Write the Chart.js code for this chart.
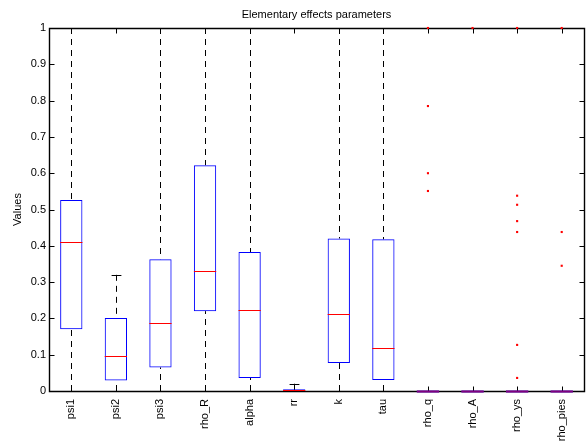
<!DOCTYPE html>
<html>
<head>
<meta charset="utf-8">
<script src="https://cdn.jsdelivr.net/npm/chart.js@4.4.1/dist/chart.umd.min.js"></script>
<style>
  body { margin: 0; background: #fff; }
  #wrap { width: 588px; height: 444px; }
</style>
</head>
<body>
<div id="wrap"><canvas id="myChart" width="588" height="444"></canvas></div>
<script>
// parameters on the x axis
var categories = ['psi1', 'psi2', 'psi3', 'rho_R', 'alpha', 'rr', 'k', 'tau', 'rho_q', 'rho_A', 'rho_ys', 'rho_pies'];

// box statistics
var whiskerLow  = [0, 0, 0, 0, 0, 0, 0, 0, 0, 0, 0, 0];
var q1          = [0.170, 0.029, 0.065, 0.220, 0.036, 0.001, 0.077, 0.030, 0, 0, 0, 0];
var median      = [0.411, 0.096, 0.187, 0.330, 0.224, 0.003, 0.213, 0.119, 0, 0, 0, 0];
var q3          = [0.526, 0.201, 0.363, 0.622, 0.383, 0.005, 0.420, 0.418, 0, 0, 0, 0];
var whiskerHigh = [1, 0.320, 1, 1, 1, 0.020, 1, 1, 0, 0, 0, 0];

// outliers (category, value)
var outlierCat = ['rho_q', 'rho_q', 'rho_q', 'rho_q', 'rho_A',
                  'rho_ys', 'rho_ys', 'rho_ys', 'rho_ys', 'rho_ys', 'rho_ys', 'rho_ys',
                  'rho_pies', 'rho_pies', 'rho_pies'];
var outlierVal = [1, 0.785, 0.600, 0.551, 1,
                  1, 0.538, 0.513, 0.468, 0.438, 0.127, 0.036,
                  1, 0.438, 0.345];

var yTicks = [0, 0.1, 0.2, 0.3, 0.4, 0.5, 0.6, 0.7, 0.8, 0.9, 1];

var FONT = 'Liberation Sans, Arial, Helvetica, sans-serif';

// frame, inward ticks, whiskers, caps, medians
var boxExtras = {
    id: 'boxExtras',
    beforeDatasetsDraw: function (chart) {
        var ctx = chart.ctx, a = chart.chartArea, x = chart.scales.x, y = chart.scales.y;
        var w = x.getPixelForValue(1) - x.getPixelForValue(0);
        ctx.save();
        ctx.strokeStyle = '#000';

        // axes box with ticks pointing inward
        var L = Math.round(a.left) + 0.5, R = Math.round(a.right) + 0.5;
        var T = Math.round(a.top) + 0.5, B = Math.round(a.bottom) + 0.5;
        ctx.lineWidth = 1.4;
        ctx.beginPath();
        ctx.rect(L, T, R - L, B - T);
        ctx.stroke();
        ctx.lineWidth = 1;
        ctx.beginPath();
        categories.forEach(function (c, i) {
            var px = Math.round(x.getPixelForValue(i)) + 0.5;
            ctx.moveTo(px, B); ctx.lineTo(px, B - 5);
            ctx.moveTo(px, T); ctx.lineTo(px, T + 5);
        });
        yTicks.forEach(function (v) {
            var py = Math.round(y.getPixelForValue(v)) + 0.5;
            ctx.moveTo(L, py); ctx.lineTo(L + 5, py);
            ctx.moveTo(R, py); ctx.lineTo(R - 5, py);
        });
        ctx.stroke();

        // whiskers
        categories.forEach(function (c, i) {
            var cx = Math.round(x.getPixelForValue(i)) + 0.5;
            ctx.setLineDash([6, 5]);
            ctx.beginPath();
            ctx.moveTo(cx, y.getPixelForValue(whiskerHigh[i]));
            ctx.lineTo(cx, y.getPixelForValue(q3[i]));
            ctx.moveTo(cx, y.getPixelForValue(whiskerLow[i]));
            ctx.lineTo(cx, y.getPixelForValue(q1[i]));
            ctx.stroke();
            ctx.setLineDash([]);
            var cw = w * 0.11;
            ctx.beginPath();
            [whiskerHigh[i], whiskerLow[i]].forEach(function (v) {
                var py = Math.round(y.getPixelForValue(v)) + 0.5;
                ctx.moveTo(cx - cw, py);
                ctx.lineTo(cx + cw, py);
            });
            ctx.stroke();
        });
        ctx.restore();
    },
    afterDatasetsDraw: function (chart) {
        var ctx = chart.ctx, x = chart.scales.x, y = chart.scales.y;
        var w = x.getPixelForValue(1) - x.getPixelForValue(0);
        ctx.save();
        ctx.lineWidth = 1;
        categories.forEach(function (c, i) {
            var cx = x.getPixelForValue(i);
            var py = Math.round(y.getPixelForValue(median[i])) + 0.5;
            var flat = Math.abs(y.getPixelForValue(q3[i]) - y.getPixelForValue(q1[i])) < 1;
            if (flat) {
                // collapsed box: blue box edge and red median on top of each other
                ctx.strokeStyle = '#0000ff';
                ctx.lineWidth = 2;
                ctx.beginPath();
                ctx.moveTo(cx - w * 0.25, py);
                ctx.lineTo(cx + w * 0.25, py);
                ctx.stroke();
                ctx.strokeStyle = 'rgba(255,0,0,0.5)';
            } else {
                ctx.strokeStyle = '#ff0000';
                ctx.lineWidth = 1;
            }
            ctx.beginPath();
            ctx.moveTo(cx - w * 0.25, py);
            ctx.lineTo(cx + w * 0.25, py);
            ctx.stroke();
        });
        ctx.restore();
    }
};

var ctx = document.getElementById('myChart').getContext('2d');

var myChart = new Chart(ctx, {
    type: 'bar',
    data: {
        labels: categories,
        datasets: [{
            type: 'bar',
            label: 'box',
            data: categories.map(function (c, i) { return [q1[i], q3[i]]; }),
            backgroundColor: 'rgba(0,0,0,0)',
            borderColor: '#0000ff',
            borderWidth: 1,
            borderSkipped: false,
            barPercentage: 0.5,
            categoryPercentage: 1.0
        }, {
            type: 'line',
            label: 'outliers',
            data: outlierCat.map(function (c, i) { return { x: c, y: outlierVal[i] }; }),
            showLine: false,
            pointStyle: 'rect',
            pointRadius: 1.5,
            pointBorderWidth: 0,
            pointBackgroundColor: '#ff0000',
            pointBorderColor: '#ff0000',
            clip: false
        }]
    },
    plugins: [boxExtras],
    options: {
        responsive: false,
        animation: false,
        events: [],
        layout: { padding: { left: 0, right: 3, top: 0, bottom: 0 } },
        plugins: {
            legend: { display: false },
            tooltip: { enabled: false },
            title: {
                display: true,
                fullSize: false,
                text: 'Elementary effects parameters',
                color: '#000',
                font: { family: FONT, size: 11, weight: 'normal' },
                padding: { top: 8.6, bottom: 6.2 }
            }
        },
        scales: {
            x: {
                type: 'category',
                offset: true,
                grid: { display: false, drawTicks: false },
                border: { display: false },
                ticks: {
                    color: '#000',
                    font: { family: FONT, size: 11 },
                    minRotation: 90,
                    maxRotation: 90,
                    autoSkip: false,
                    padding: 8
                },
                afterFit: function (scale) { scale.height = 53; }
            },
            y: {
                min: 0,
                max: 1,
                grid: { display: false, drawTicks: false },
                border: { display: false },
                ticks: {
                    color: '#000',
                    font: { family: FONT, size: 11 },
                    stepSize: 0.1,
                    padding: 3,
                    callback: function (v) { return String(Number(v.toFixed(1))); }
                },
                title: {
                    display: true,
                    text: 'Values',
                    color: '#000',
                    font: { family: FONT, size: 11 },
                    padding: { top: 11, bottom: 0 }
                },
                afterFit: function (scale) { scale.width = 49; }
            }
        }
    }
});
</script>
</body>
</html>
